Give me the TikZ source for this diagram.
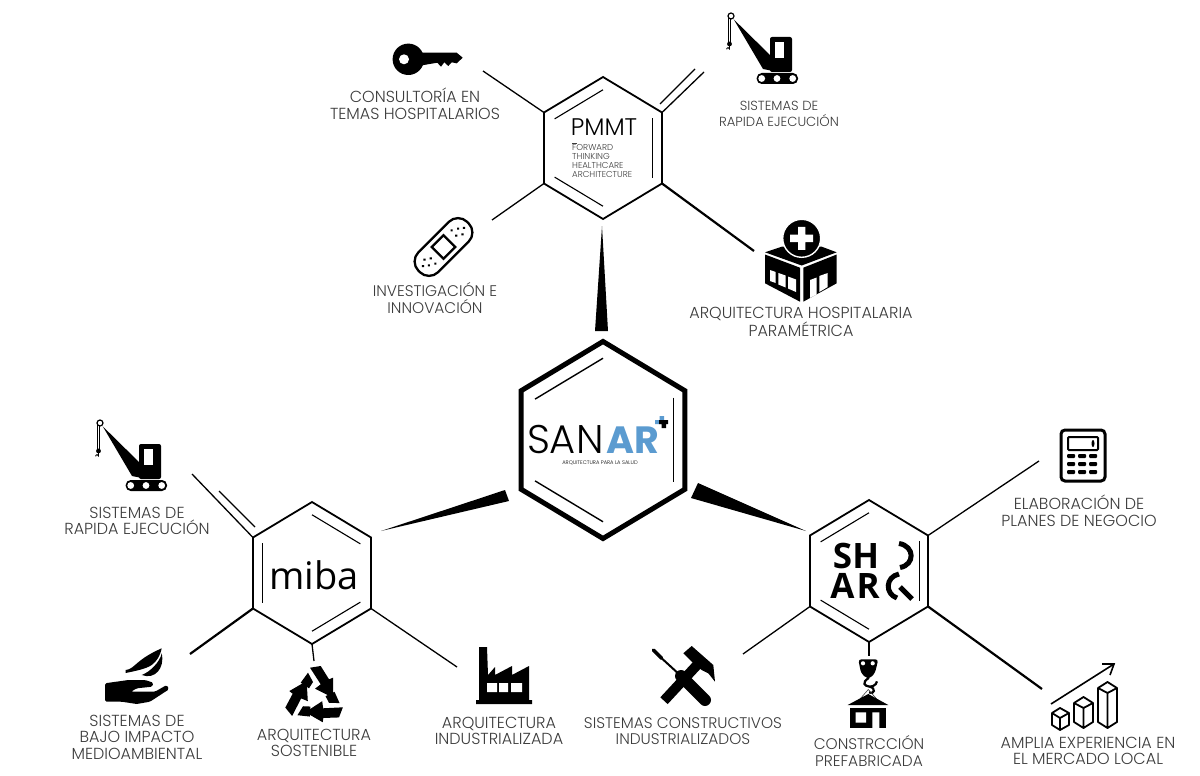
\documentclass[tikz,border=0pt]{standalone}
\usepackage{fontspec}
\setmainfont{Poppins Light}
\newfontfamily\barefont{Poppins}
\newfontfamily\openfont{Open Sans}
\usepackage{tikz}
\usetikzlibrary{calc, shapes.geometric, positioning}
\definecolor{labelgrey}{HTML}{3C3C3C}
\definecolor{sanarblue}{HTML}{5B9BD0}
\tikzset{
    hexnode/.style = {draw, regular polygon, regular polygon sides=6, shape border rotate=30, 
      inner sep = 0em, outer sep = 0em, minimum size=142pt, line width=1.8pt, line join=miter, 
      xscale=0.96, transform shape, node distance=0em},
    bighexnode/.style = {hexnode, minimum size=197pt, line width=5pt},
    textnode/.style  = {draw=none, fill=none, rectangle, inner sep = 0em, node distance=0em, 
      text=labelgrey, align=center, font=\fontsize{16}{16.6}\selectfont},
    smalltextnode/.style  = {textnode, font=\fontsize{15.4}{16.6}\selectfont},
    logonode/.style  = {draw=none, fill=none, rectangle, inner sep = 0em, node distance=0em, text=black},
    branch/.style = {line width=1.3pt},
    thickbranch/.style = {line width=2.2pt},
    innerline/.style = {line width=1.1pt},
    wedge/.style = {fill=black},
    crane/.pic = {
      \fill (2.7,3.3) -- (42,42) -- (42,55) -- (32,53) -- cycle;
      \fill [rounded corners=2pt] (39,21) rectangle (61,56);
      \fill [white] (44,26) rectangle (53,42);
      \fill [rounded corners=5pt] (25.7,57) rectangle (67,68);
      \fill [white] (30.7,62.5) circle (3.4) (46,62.5) circle (3.4) (61.7,62.5) circle (3.4);
      \draw [line width=0.8pt] (-3,2) -- (-3,27) (-0.5,3) -- (-0.5,27);
      \fill (-1.5,28) circle (2.4);
      \draw [line width=0.8pt] (-1.5,30) -- (-1.5,33) arc (0:-200:1.4);
      \draw [line width=1.2pt, fill=white] (0,0) circle (3);
    },
    recyclearrow/.pic = {
      \fill (-5,-29.3) -- (5.7,-31) -- (14,-17.7) -- (18,-19.3) -- (18,0.7) -- (0,-8.3) -- (5.7,-12.7) -- cycle;
      \fill (-7,-24.3) -- (-2,-15) -- (-6,-8.7) -- (-14.3,-14.3) -- cycle;
    }
}

\begin{document}
\begin{tikzpicture}[x=1pt, y=-1pt]
    \useasboundingbox (0,0) rectangle (1200,776);

    \node [name=pmmt, at={(603,148)}, hexnode] {};
    \node [name=sanar, at={(603,440)}, bighexnode] {};
    \node [name=miba, at={(312,573)}, hexnode] {};
    \node [name=sharq, at={(869,571)}, hexnode] {};

    \draw [innerline] ($(pmmt.center)!.82!(pmmt.corner 2)$) -- ($(pmmt.center)!.82!(pmmt.corner 1)$);
    \draw [innerline] ($(pmmt.center)!.84!(pmmt.corner 6)$) -- ($(pmmt.center)!.84!(pmmt.corner 5)$);
    \draw [innerline] ($(pmmt.center)!.82!(pmmt.corner 3)$) -- ($(pmmt.center)!.82!(pmmt.corner 4)$);
    \draw [innerline, line width=1.4pt] ($(sanar.center)!.83!(sanar.corner 2)$) -- ($(sanar.center)!.83!(sanar.corner 1)$);
    \draw [innerline, line width=1.4pt] ($(sanar.center)!.86!(sanar.corner 6)$) -- ($(sanar.center)!.86!(sanar.corner 5)$);
    \draw [innerline, line width=1.4pt] ($(sanar.center)!.83!(sanar.corner 3)$) -- ($(sanar.center)!.83!(sanar.corner 4)$);
    \draw [innerline] ($(miba.center)!.84!(miba.corner 2)$) -- ($(miba.center)!.84!(miba.corner 3)$);
    \draw [innerline] ($(miba.center)!.82!(miba.corner 1)$) -- ($(miba.center)!.82!(miba.corner 6)$);
    \draw [innerline] ($(miba.center)!.82!(miba.corner 4)$) -- ($(miba.center)!.82!(miba.corner 5)$);
    \draw [innerline] ($(sharq.center)!.82!(sharq.corner 2)$) -- ($(sharq.center)!.82!(sharq.corner 1)$);
    \draw [innerline] ($(sharq.center)!.85!(sharq.corner 6)$) -- ($(sharq.center)!.85!(sharq.corner 5)$);
    \draw [innerline] ($(sharq.center)!.82!(sharq.corner 3)$) -- ($(sharq.center)!.82!(sharq.corner 4)$);

    \coordinate (keyend) at (483,71);
    \coordinate (craneend) at (704,72);
    \coordinate (cranestart) at (660,104);
    \coordinate (craneendb) at (695,69);
    \coordinate (bandend) at (492,220);
    \coordinate (hospend) at (754,251);
    \draw (pmmt.corner 2) edge[branch] (keyend);
    \draw (pmmt.corner 6) edge[branch] (craneend);
    \draw (cranestart) edge[branch] (craneendb);
    \draw (pmmt.corner 3) edge[branch] (bandend);
    \draw (pmmt.corner 5) edge[thickbranch] (hospend);

    \coordinate (minicraneend) at (192,474);
    \coordinate (minicranestart) at (255,527);
    \coordinate (minicraneendb) at (219,491);
    \coordinate (handend) at (190,654);
    \coordinate (recycleend) at (314,661);
    \coordinate (factoryend) at (457,667);
    \draw (miba.corner 2) edge[branch] (minicraneend);
    \draw (minicranestart) edge[branch] (minicraneendb);
    \draw (miba.corner 3) edge[thickbranch] (handend);
    \draw (miba.corner 4) edge[branch] (recycleend);
    \draw (miba.corner 5) edge[branch] (factoryend);

    \coordinate (calcend) at (1039,461);
    \coordinate (toolsend) at (743,654);
    \coordinate (hookend) at (869,656);
    \coordinate (barsend) at (1042,689);
    \draw (sharq.corner 6) edge[branch] (calcend);
    \draw (sharq.corner 3) edge[branch] (toolsend);
    \draw (sharq.corner 4) edge[branch] (hookend);
    \draw (sharq.corner 5) edge[thickbranch] (barsend);

    \coordinate (pmmttip) at (602,226);
    \coordinate (pmmtbasea) at (595,331);
    \coordinate (pmmtbaseb) at (608,331);
    \coordinate (mibatip) at (381,531);
    \coordinate (mibabasea) at (505,490);
    \coordinate (mibabaseb) at (509,501);
    \coordinate (sharqtip) at (806,531);
    \coordinate (sharqbasea) at (698,483);
    \coordinate (sharqbaseb) at (691,498);
    \fill [wedge] (pmmttip) -- (pmmtbasea) -- (pmmtbaseb) -- cycle;
    \fill [wedge] (mibatip) -- (mibabasea) -- (mibabaseb) -- cycle;
    \fill [wedge] (sharqtip) -- (sharqbasea) -- (sharqbaseb) -- cycle;

    \node [name=pmmtlogo, logonode, above of=pmmt, xshift=1pt, yshift=21pt, font=\fontsize{24}{24}\selectfont] {PMMT};
    \node [name=pmmtsub, logonode, right of=pmmt, xshift=-31pt, anchor=west, yshift=-12.5pt, text=labelgrey, 
      font=\fontsize{8.6}{9}\selectfont, align=left] {FORWARD\\THINKING\\HEALTHCARE\\ARCHITECTURE};
    \draw [line width=0.5pt, labelgrey] (572,143) -- (577,143);
    \node [name=sanarlogo, logonode, left of=sanar, xshift=-37.7pt, yshift=-1pt, text height=25pt, text depth=0pt, 
      font=\fontsize{40}{40}\selectfont] {SAN};
    \node [name=sanarar, logonode, right of=sanar, xshift=29.5pt, yshift=-1pt, text=sanarblue, text height=25pt, 
      text depth=0pt, font=\barefont\bfseries\fontsize{38}{38}\selectfont] {AR};
    \node [name=sanarsub, logonode, below of=sanar, xshift=-3pt, yshift=-23pt, text height=3.5pt, text depth=0pt, 
      font=\fontsize{5.2}{5.2}\selectfont] {ARQUITECTURA PARA LA SALUD};
    \fill [sanarblue] (655,420) rectangle (662,424) (659.5,416) rectangle (664,420);
    \fill (659,420) rectangle (668,424) (661.5,420) rectangle (666,428);
    \node [name=mibalogo, logonode, below of=miba, xshift=2pt, yshift=-2pt, font=\openfont\fontsize{38}{38}\selectfont] 
      {miba};
    \node [name=sharqsh, logonode, left of=sharq, xshift=-13pt, yshift=15.5pt, text height=25pt, text depth=0pt, 
      font=\openfont\bfseries\fontsize{35}{35}\selectfont] {SH};
    \node [name=sharqar, logonode, left of=sharq, xshift=-14pt, yshift=-14.5pt, text height=25pt, text depth=0pt, 
      font=\openfont\bfseries\fontsize{35}{35}\selectfont] {A\kern2pt R};
    \draw [line width=5pt] (899,543.5) .. controls (915,546) and (915,565) .. (900,567.5);
    \draw [line width=5pt] (899,574) .. controls (885,577) and (885,594) .. (897,598);
    \draw [line width=5pt] (900,587) -- (912,599);

    \node [name=keytext, textnode, left of=pmmt, xshift=-188pt, yshift=44pt] {CONSULTORÍA EN\\TEMAS HOSPITALARIOS};
    \node [name=cranetext, textnode, right of=pmmt, xshift=176pt, yshift=34pt, font=\fontsize{13.2}{16.6}\selectfont] 
      {SISTEMAS DE\\RAPIDA EJECUCIÓN};
    \node [name=bandtext, smalltextnode, left of=pmmt, xshift=-168pt, yshift=-150pt] {INVESTIGACIÓN E\\INNOVACIÓN};
    \node [name=hosptext, textnode, right of=pmmt, xshift=198pt, yshift=-174pt] {ARQUITECTURA HOSPITALARIA\\PARAMÉTRICA};
    \node [name=minicranetext, textnode, left of=miba, xshift=-175pt, yshift=52pt] {SISTEMAS DE\\RAPIDA EJECUCIÓN};
    \node [name=handtext, textnode, left of=miba, xshift=-175pt, yshift=-164pt] {SISTEMAS DE\\BAJO IMPACTO\\MEDIOAMBIENTAL};
    \node [name=recycletext, textnode, below of=miba, xshift=2pt, yshift=-170pt] {ARQUITECTURA\\SOSTENIBLE};
    \node [name=factorytext, textnode, right of=miba, xshift=187pt, yshift=-158pt] {ARQUITECTURA\\INDUSTRIALIZADA};
    \node [name=calctext, textnode, right of=sharq, xshift=210pt, yshift=60pt] {ELABORACIÓN DE\\PLANES DE NEGOCIO};
    \node [name=toolstext, smalltextnode, left of=sharq, xshift=-186pt, yshift=-160pt] {SISTEMAS CONSTRUCTIVOS\\INDUSTRIALIZADOS};
    \node [name=hooktext, smalltextnode, below of=sharq, yshift=-180pt] {CONSTRCCIÓN\\PREFABRICADA};
    \node [name=barstext, textnode, right of=sharq, xshift=219pt, yshift=-180pt] {AMPLIA EXPERIENCIA EN\\EL MERCADO LOCAL};

    % key
    \fill (408.3,59.3) circle (15.7);
    \fill (418,52.7) -- (456.7,52.7) -- (462.7,57.7) -- (456.7,63.3) -- (451.7,62.3) -- (448.3,66) -- (444.3,62.3) 
      -- (441,66.7) -- (437.3,62.7) -- (418,66) -- cycle;
    \fill [white] (404,59.3) circle (5);

    \pic at (731,16) {crane};
    \pic at (100,423) {crane};

    % bandage
    \begin{scope}[shift={(443.5,247)}, rotate=45]
      \draw [line width=2.3pt, rounded corners=13pt, fill=white] (-34.5,-14) rectangle (34.5,14);
      \draw [line width=2.3pt, fill=white] (-8.3,-8.3) rectangle (8.3,8.3);
      \fill (17,1) circle (1.5) (17.5,-6) circle (1.5) (22.4,4.5) circle (1.5) (23.3,-2.6) circle (1.5) (28,1) circle (1.5);
      \fill (-17,-1) circle (1.5) (-17.5,6) circle (1.5) (-22.4,-4.5) circle (1.5) (-23.3,2.6) circle (1.5) (-28,-1) circle (1.5);
    \end{scope}

    % hospital
    \fill (765,252.3) -- (781.7,246.7) -- (821.7,246.7) -- (836.7,252.3) -- (801.7,265.5) -- cycle;
    \fill (765,254.5) -- (800,267.7) -- (800,301.7) -- (765,283.3) -- cycle;
    \fill (836.7,254.5) -- (803.3,267.7) -- (803.3,301.7) -- (836.7,283.3) -- cycle;
    \fill [white] (770,270) -- (775.7,272) -- (775.7,283) -- (770,281) -- cycle;
    \fill [white] (778.3,273) -- (785.7,275.5) -- (785.7,287.5) -- (778.3,284.5) -- cycle;
    \fill [white] (788,276.5) -- (796,279.5) -- (796,292) -- (788,288.5) -- cycle;
    \fill [white] (810,280) -- (816.7,277.5) -- (816.7,294.5) -- (810,298) -- cycle;
    \fill [white] (819.3,276) -- (827.7,273) -- (827.7,287) -- (819.3,292) -- cycle;
    \draw [line width=1.4pt, fill=black, draw=white] (801.7,238.3) circle (19);
    \fill [white] (798,226.8) rectangle (805.4,249.8) (790.2,234.6) rectangle (813.2,242);

    \pic at (315,697) {recyclearrow};
    \pic [rotate=120] at (315,697) {recyclearrow};
    \pic [rotate=240] at (315,697) {recyclearrow};

    % hand and leaf
    \fill [rounded corners=1.5pt] (105,683.3) -- (128.3,680) -- (145,680) -- (153.3,682.7) -- (152.3,686.7) 
      -- (136.7,688.3) -- (131,691.7) -- (155,691.7) -- (166.7,685) -- (169,689.3) -- (150,701.7) -- (136.7,704) 
      -- (121.7,701.7) -- (105,701.7) -- cycle;
    \fill (125.7,670) .. controls (135,669) and (135,660) .. (161.7,648.3) .. controls (160,656) and (157,661) .. (151.7,665) 
      .. controls (146,669) and (135,671) .. (125.7,673) -- cycle;
    \fill (141.7,675) .. controls (150,672) and (160,662) .. (161.7,653.3) .. controls (165,668) and (155,680) .. (141.7,675);

    % factory
    \fill (479,647) -- (487,647) -- (488,675) -- (495,667) -- (495,675) -- (512,666) -- (512,675) -- (529,666) 
      -- (529,700) -- (532,700) -- (532,704) -- (476,704) -- (476,700) -- (479,700) -- cycle;
    \fill [white] (487,683) rectangle (497,692) (499,683) rectangle (508,692) (511,683) rectangle (522,692);

    % tools
    \fill (683.3,653.3) -- (691.7,646) -- (713.3,665) -- (715,681.7) -- (708.3,673.3) -- (701.7,670) -- (695,665) -- cycle;
    \draw [line width=10pt] (698,664) -- (664,700.7);
    \draw [line width=3.5pt, line cap=round] (653.3,650) -- (661.7,658.3);
    \draw [line width=2pt] (661.7,658.3) -- (681,676);
    \draw [line width=12pt, line cap=round] (681,676) -- (705,700);

    % hook and house
    \fill [rounded corners=3pt] (858.3,659.3) -- (878.3,659.3) -- (875,673) -- (870,678.3) -- (866.7,678.3) -- (861,673) -- cycle;
    \fill [white] (863,663.3) circle (2.1) (872.7,663.3) circle (2.1);
    \draw [line width=2.2pt] (868.7,678) .. controls (861,683) and (865,686) .. (869,686.5) 
      .. controls (876,687) and (878,681) .. (875.5,682) (869,686.5) .. controls (877,688) and (874,695) .. (869,692.5);
    \draw [line width=0.6pt, labelgrey] (860,699) -- (868.3,689.5) -- (876.7,699);
    \fill (847.7,705) -- (868.3,694) -- (888.3,705) -- cycle;
    \fill (850,708) rectangle (886,728.3);
    \fill [white] (855.7,712.3) rectangle (866,722.7) (872.3,712.3) rectangle (879.3,728.3);

    % calculator
    \draw [line width=3pt, rounded corners=4pt] (1061,430) rectangle (1105,481);
    \draw [line width=2pt, rounded corners=1pt] (1068,437) rectangle (1098,450);
    \fill (1093,443.5) ellipse (1.5 and 3.5);
    \fill [rounded corners=1pt] (1067,454) rectangle (1075,458) (1078,454) rectangle (1086,458) (1089,454) rectangle (1097,458);
    \fill [rounded corners=1pt] (1067,462) rectangle (1075,466) (1078,462) rectangle (1086,466) (1089,462) rectangle (1097,466);
    \fill [rounded corners=1pt] (1067,470) rectangle (1075,474) (1078,470) rectangle (1086,474) (1089,470) rectangle (1097,474);

    % growth bars
    \draw [line width=1.8pt, line join=round] (1052,713) -- (1060,708) -- (1069,713) -- (1069,725) -- (1060,730) 
      -- (1052,725) -- cycle (1052,713) -- (1060,718) -- (1069,713) (1060,718) -- (1060,730);
    \draw [line width=1.8pt, line join=round] (1074,703) -- (1083.5,697) -- (1093,703) -- (1093,722) -- (1083.5,728) 
      -- (1074,722) -- cycle (1074,703) -- (1083.5,708) -- (1093,703) (1083.5,708) -- (1083.5,728);
    \draw [line width=1.8pt, line join=round] (1098,688) -- (1107.5,682) -- (1117,688) -- (1117,722) -- (1107.5,728) 
      -- (1098,722) -- cycle (1098,688) -- (1107.5,693) -- (1117,688) (1107.5,693) -- (1107.5,728);
    \draw [line width=1.6pt] (1051,704) -- (1114,664);
    \draw [line width=1.6pt] (1102,664) -- (1114,664) -- (1110,675);
\end{tikzpicture}
\end{document}
